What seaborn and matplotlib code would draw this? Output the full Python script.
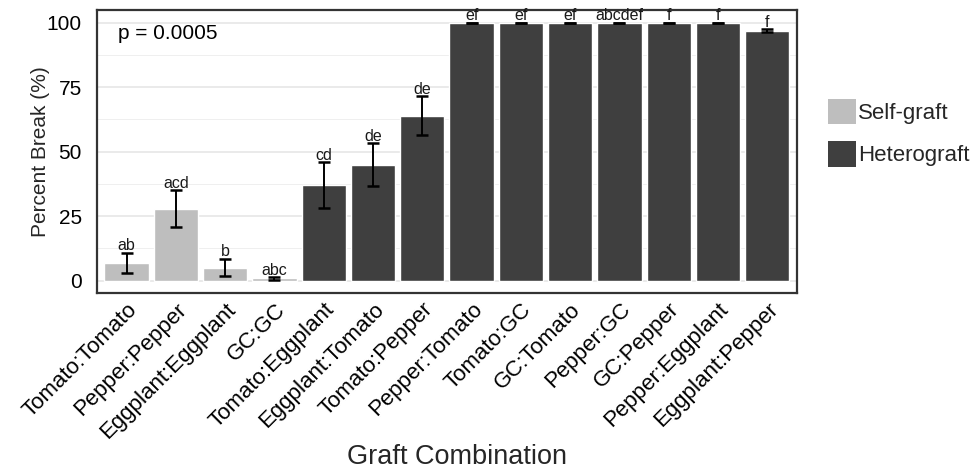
import matplotlib
matplotlib.use("Agg")
import matplotlib.pyplot as plt
from matplotlib.patches import Patch
from matplotlib.ticker import MultipleLocator
import seaborn as sns
import pandas as pd
import numpy as np

# Graft combinations (scion:rootstock)
combinations = [
    "Tomato:Tomato", "Pepper:Pepper", "Eggplant:Eggplant", "GC:GC",
    "Tomato:Eggplant", "Eggplant:Tomato", "Tomato:Pepper", "Pepper:Tomato",
    "Tomato:GC", "GC:Tomato", "Pepper:GC", "GC:Pepper",
    "Pepper:Eggplant", "Eggplant:Pepper",
]
graft_type = ["Self-graft"] * 4 + ["Heterograft"] * 10
percent_break = [6.9, 27.9, 5.0, 0.8, 37.0, 45.0, 63.9, 100, 100, 100, 100, 100, 100, 96.9]
std_error = [3.8, 7.1, 3.4, 0.4, 8.9, 8.2, 7.6, 0, 0, 0, 0, 0, 0, 0.6]
letters = ["ab", "acd", "b", "abc", "cd", "de", "de", "ef", "ef", "ef",
           "abcdef", "f", "f", "f"]
p_value_text = "p = 0.0005"

df = pd.DataFrame({
    "combination": combinations,
    "type": graft_type,
    "pct": percent_break,
    "se": std_error,
    "letter": letters,
})

sns.set_theme(style="white")
plt.rcParams["font.family"] = ["Liberation Sans", "DejaVu Sans"]

palette = {"Self-graft": "#bebebe", "Heterograft": "#3f3f3f"}

fig = plt.figure(figsize=(9.72, 4.71), dpi=100)
ax = fig.add_axes([0.0998, 0.377, 0.720, 0.602])

# grid behind the bars
ax.set_axisbelow(True)
ax.yaxis.set_major_locator(MultipleLocator(25))
ax.yaxis.set_minor_locator(MultipleLocator(12.5))
ax.grid(True, which="major", axis="both", color="#e4e4e4", linewidth=1.1)
ax.grid(True, which="minor", axis="y", color="#efefef", linewidth=0.7)

sns.barplot(data=df, x="combination", y="pct", hue="type", palette=palette,
            order=combinations, dodge=False, width=0.9, errorbar=None,
            saturation=1, legend=False, ax=ax)

xpos = np.arange(len(combinations))
ax.errorbar(xpos, df["pct"], yerr=df["se"], fmt="none", ecolor="black",
            elinewidth=1.4, capsize=4.5, capthick=1.8, zorder=3)

for x, (m, s, lab) in enumerate(zip(df["pct"], df["se"], df["letter"])):
    ax.text(x, m + s + 1.0, lab, ha="center", va="baseline",
            fontsize=11.5, color="#1a1a1a", zorder=4)

ax.text(0.03, 0.917, p_value_text, transform=ax.transAxes, ha="left",
        va="center", fontsize=15, color="black")

ax.set_xlim(-0.6, len(combinations) - 0.4)
ax.set_ylim(-5, 105)
ax.set_yticks([0, 25, 50, 75, 100])

for side in ax.spines.values():
    side.set_visible(True)
    side.set_color("#333333")
    side.set_linewidth(1.6)

ax.tick_params(axis="both", which="both", length=0, colors="black")
ax.tick_params(axis="y", labelsize=15, pad=11)
ax.tick_params(axis="x", labelsize=16, pad=4)
plt.setp(ax.get_xticklabels(), rotation=45, ha="right", rotation_mode="anchor")

ax.set_xlabel("Graft Combination", fontsize=19.5, va="center")
ax.xaxis.set_label_coords(0.515, -0.578)
ax.set_ylabel("Percent Break (%)", fontsize=15)
ax.yaxis.set_label_coords(-0.067, 0.5)

handles = [Patch(facecolor=palette[k], edgecolor="none", label=k)
           for k in ["Self-graft", "Heterograft"]]
fig.legend(handles=handles, loc="center left", bbox_to_anchor=(0.852, 0.718),
           frameon=False, fontsize=16, handlelength=1.25, handleheight=1.4,
           handletextpad=0.1, labelspacing=0.75, borderpad=0, borderaxespad=0)

fig.savefig("out.png", dpi=100, facecolor="white")
